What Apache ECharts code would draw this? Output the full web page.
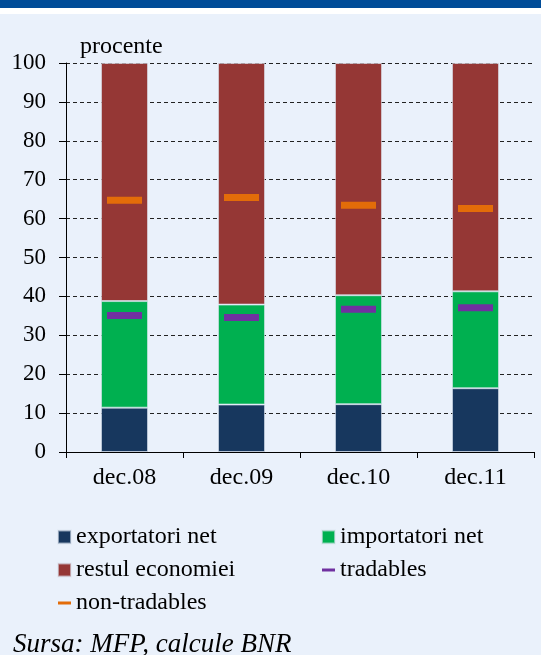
<!DOCTYPE html>
<html>
<head>
<meta charset="utf-8">
<script src="https://cdn.jsdelivr.net/npm/echarts@6/dist/echarts.min.js"></script>
<style>
html,body{margin:0;padding:0;background:#EAF1FB;}
#c{width:541px;height:655px;}
</style>
</head>
<body>
<div id="c"></div>
<script>
const categories = ['dec.08', 'dec.09', 'dec.10', 'dec.11'];
const exportatoriNet = [11.4, 12.2, 12.3, 16.4];
const importatoriNet = [27.4, 25.7, 28.0, 24.9];
const restulEconomiei = [61.2, 62.1, 59.7, 58.7];
const tradables = [35.1, 34.6, 36.7, 37.1];
const nonTradables = [64.7, 65.4, 63.4, 62.6];
const yTicks = [0, 10, 20, 30, 40, 50, 60, 70, 80, 90, 100];

const FONT = 'Liberation Serif';
const chart = echarts.init(document.getElementById('c'), null, {renderer: 'canvas'});
const barBorder = {borderColor: 'rgba(220,228,240,0.6)', borderWidth: 1};
const lineIcon = 'path://M0,0H13V3H0Z';

chart.setOption({
  backgroundColor: '#EAF1FB',
  animation: false,
  textStyle: {fontFamily: FONT},
  graphic: [
    {type: 'rect', left: 0, top: 0, shape: {width: 541, height: 8}, style: {fill: '#004C98'}},
    {type: 'rect', left: 0, top: 8, shape: {width: 541, height: 6}, style: {fill: '#FFFFFF'}}
  ],
  title: {
    text: 'Sursa: MFP, calcule BNR',
    left: 13, top: 631,
    padding: 0,
    textStyle: {fontFamily: FONT, fontStyle: 'italic', fontWeight: 'normal', fontSize: 27, color: '#000'}
  },
  legend: [
    {
      orient: 'vertical', left: 57, top: 525, itemWidth: 13, itemHeight: 13, itemGap: 9, padding: 0,
      textStyle: {fontFamily: FONT, fontSize: 24, color: '#000', lineHeight: 22},
      data: [{name: 'exportatori net', icon: 'rect'}, {name: 'restul economiei', icon: 'rect'}, {name: 'non-tradables', icon: lineIcon}]
    },
    {
      orient: 'vertical', left: 321, top: 525, itemWidth: 13, itemHeight: 13, itemGap: 9, padding: 0,
      textStyle: {fontFamily: FONT, fontSize: 24, color: '#000', lineHeight: 22},
      data: [{name: 'importatori net', icon: 'rect'}, {name: 'tradables', icon: lineIcon}]
    }
  ],
  grid: {left: 66, right: 7, top: 63, bottom: 203, containLabel: false},
  xAxis: {
    type: 'category', data: categories, boundaryGap: true,
    axisLine: {show: true, lineStyle: {color: '#000', width: 1}},
    axisTick: {show: true, length: 6, inside: false, alignWithLabel: false, lineStyle: {color: '#000'}},
    axisLabel: {fontFamily: FONT, fontSize: 24, color: '#000', margin: 14}
  },
  yAxis: {
    type: 'value', min: yTicks[0], max: yTicks[yTicks.length - 1], interval: 10,
    name: 'procente', nameLocation: 'end', nameGap: 16,
    nameTextStyle: {fontFamily: FONT, fontSize: 24, color: '#000', align: 'left', verticalAlign: 'middle', padding: [0, 0, 0, 14]},
    axisLine: {show: true, lineStyle: {color: '#000', width: 1}},
    axisTick: {show: true, length: 7, inside: false, lineStyle: {color: '#000'}},
    axisLabel: {fontFamily: FONT, fontSize: 23, color: '#000', margin: 20},
    splitLine: {show: true, lineStyle: {color: '#222', type: [4, 3], width: 1}}
  },
  series: [
    {name: 'exportatori net', type: 'bar', stack: 'a', data: exportatoriNet, barWidth: 47,
     itemStyle: Object.assign({color: '#17375E'}, barBorder)},
    {name: 'importatori net', type: 'bar', stack: 'a', data: importatoriNet, barWidth: 47,
     itemStyle: Object.assign({color: '#00B050'}, barBorder)},
    {name: 'restul economiei', type: 'bar', stack: 'a', data: restulEconomiei, barWidth: 47,
     itemStyle: Object.assign({color: '#953735'}, barBorder)},
    {name: 'tradables', type: 'scatter', data: tradables, symbol: 'rect', symbolSize: [35, 7],
     symbolKeepAspect: true, z: 5, itemStyle: {color: '#7030A0', opacity: 1}},
    {name: 'non-tradables', type: 'scatter', data: nonTradables, symbol: 'rect', symbolSize: [35, 7],
     symbolKeepAspect: true, z: 5, itemStyle: {color: '#E36C09', opacity: 1}}
  ]
});
</script>
</body>
</html>
